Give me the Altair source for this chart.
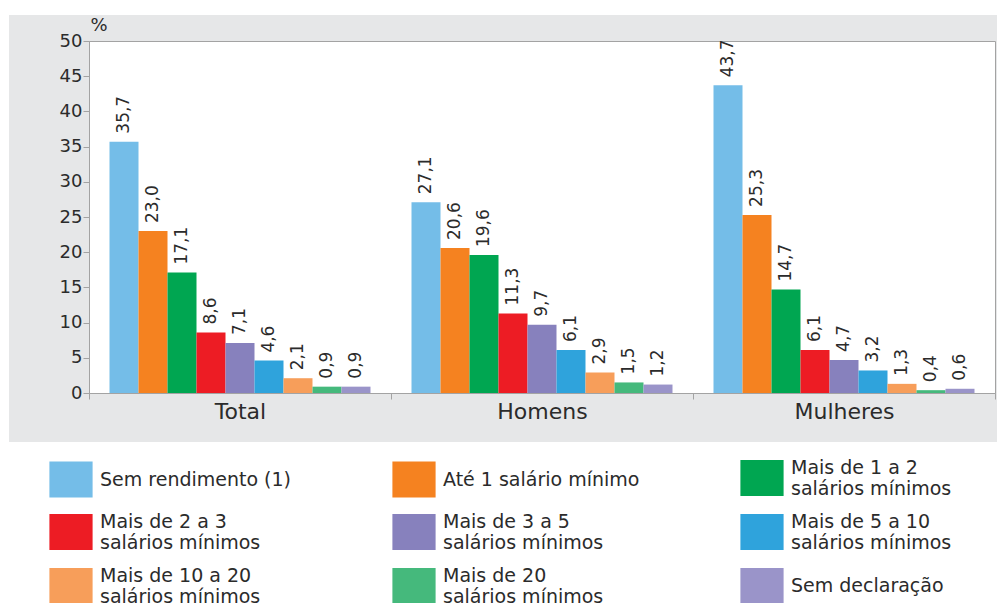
import altair as alt
import pandas as pd

groups = ["Total", "Homens", "Mulheres"]
categories = [
    "Sem rendimento (1)",
    "Até 1 salário mínimo",
    "Mais de 1 a 2 salários mínimos",
    "Mais de 2 a 3 salários mínimos",
    "Mais de 3 a 5 salários mínimos",
    "Mais de 5 a 10 salários mínimos",
    "Mais de 10 a 20 salários mínimos",
    "Mais de 20 salários mínimos",
    "Sem declaração",
]
colors = ["#74bde8", "#f58220", "#00a651", "#ed1c24", "#8781bd",
          "#2fa3dc", "#f79e5a", "#45b97c", "#9a94c9"]
total = [35.7, 23.0, 17.1, 8.6, 7.1, 4.6, 2.1, 0.9, 0.9]
homens = [27.1, 20.6, 19.6, 11.3, 9.7, 6.1, 2.9, 1.5, 1.2]
mulheres = [43.7, 25.3, 14.7, 6.1, 4.7, 3.2, 1.3, 0.4, 0.6]
y_ticks = [0, 5, 10, 15, 20, 25, 30, 35, 40, 45, 50]

rows = []
for g, vals in zip(groups, [total, homens, mulheres]):
    for c, v in zip(categories, vals):
        rows.append({"grupo": g, "cat": c, "valor": v,
                     "rotulo": f"{v:.1f}".replace(".", ",")})
df = pd.DataFrame(rows)

FONT = "DejaVu Sans"
W, H = 906, 352
GREY_BORDER = "#a3a3a3"

x_enc = alt.X("grupo:N", sort=groups,
              scale=alt.Scale(paddingInner=0, paddingOuter=0),
              axis=alt.Axis(title=None, labelAngle=0, labelFont=FONT, labelFontSize=22,
                            labelColor="#2b2b2b", tickBand="extent", tickSize=6,
                            tickColor=GREY_BORDER, domainColor=GREY_BORDER,
                            labelPadding=2))
xoff = alt.XOffset("cat:N", sort=categories,
                   scale=alt.Scale(paddingInner=0, paddingOuter=0.707))
y_enc = alt.Y("valor:Q", stack=None,
              scale=alt.Scale(domain=[0, 50], nice=False),
              axis=alt.Axis(values=y_ticks, grid=False, title="%",
                            labelOverlap=False,
                            titleAngle=0, titleX=1, titleY=-11, titleAlign="left",
                            titleBaseline="alphabetic", titleFont=FONT,
                            titleFontSize=18, titleFontWeight="normal",
                            titleColor="#2b2b2b", labelFont=FONT, labelFontSize=18,
                            labelColor="#2b2b2b", tickSize=6, tickColor=GREY_BORDER,
                            domainColor=GREY_BORDER, labelPadding=1))

base = alt.Chart(df)

two_line_baseline = alt.ExprRef(
    expr="isValid(datum) && isValid(datum.label) && indexof(datum.label, ' salários') >= 0 ? 'bottom' : 'middle'"
)

bars = base.mark_bar().encode(
    x=x_enc,
    xOffset=xoff,
    y=y_enc,
    color=alt.Color("cat:N", sort=categories,
                    scale=alt.Scale(domain=categories, range=colors),
                    legend=alt.Legend(
                        title=None, orient="none", legendX=-36, legendY=419,
                        direction="horizontal",
                        columns=3, columnPadding=100, rowPadding=14,
                        gridAlign="each",
                        symbolType="M-1.2,-1H1.2V1H-1.2Z", symbolSize=1296,
                        symbolStrokeWidth=0, symbolOpacity=1,
                        labelFont=FONT, labelFontSize=19, labelColor="#2b2b2b",
                        labelOffset=11, labelLimit=0, labelBaseline=two_line_baseline,
                        labelExpr="split(replace(datum.label, ' salários', '|salários'), '|')",
                        padding=0)),
)

labels = base.mark_text(angle=270, align="left", baseline="middle", dx=8,
                        font=FONT, fontSize=17, color="#2b2b2b").encode(
    x=x_enc,
    xOffset=xoff,
    y=y_enc,
    text="rotulo:N",
)

one = pd.DataFrame({"k": [0]})
top_strip = alt.Chart(one).mark_rect(color="white").encode(
    x=alt.value(-89), x2=alt.value(W + 2), y=alt.value(-41), y2=alt.value(-26))
left_strip = alt.Chart(one).mark_rect(color="white").encode(
    x=alt.value(-89), x2=alt.value(-80), y=alt.value(-41), y2=alt.value(H + 49))
bottom_block = alt.Chart(one).mark_rect(color="white").encode(
    x=alt.value(-89), x2=alt.value(W + 2), y=alt.value(H + 49), y2=alt.value(H + 250))

chart = alt.layer(top_strip, left_strip, bottom_block, bars, labels).properties(
    width=W, height=H, padding=0, background="#e6e7e8"
).configure_view(fill="white", stroke=GREY_BORDER, strokeWidth=1
).configure_axisY(labelOverlap=False)

chart.save("out.html", embed_options={"renderer": "svg", "actions": False})
